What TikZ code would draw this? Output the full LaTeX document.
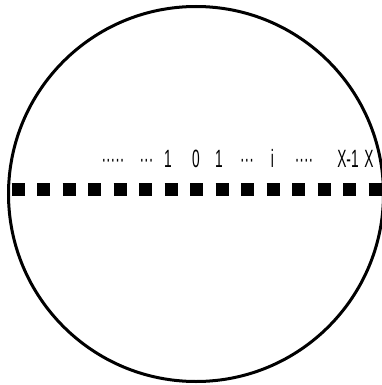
\documentclass[tikz,border=0pt]{standalone}
\usepackage{fontspec}
\setmainfont{Liberation Sans}
\usepackage{tikz}
\begin{document}
\begin{tikzpicture}[x=1pt, y=-1pt,
	lbl/.style={font=\fontsize{25}{25}\selectfont, xscale=0.55, anchor=base, inner sep=0pt}]
	% Bildbereich
	\useasboundingbox (0,0) rectangle (382,385);
	% Kreis
	\draw[line width=3pt] (196,194) circle [radius=187.5];
	% Quadrate
	\draw[line width=13pt, dash pattern=on 13pt off 12.5pt] (11.5,189) -- (382,189);
	% Beschriftung
	\node[lbl] (d1) at (113,167) {·····};
	\node[lbl] (d2) at (146.5,167) {···};
	\node[lbl] (one) at (168,167) {1};
	\node[lbl] (zero) at (196,167) {0};
	\node[lbl] (onee) at (219,167) {1};
	\node[lbl] (d3) at (247,167) {···};
	\node[lbl] (ii) at (272.5,167) {i};
	\node[lbl] (d4) at (304,167) {····};
	\node[lbl] (xm) at (348,167) {X-1};
	\node[lbl] (xx) at (369,167) {X};
\end{tikzpicture}
\end{document}
